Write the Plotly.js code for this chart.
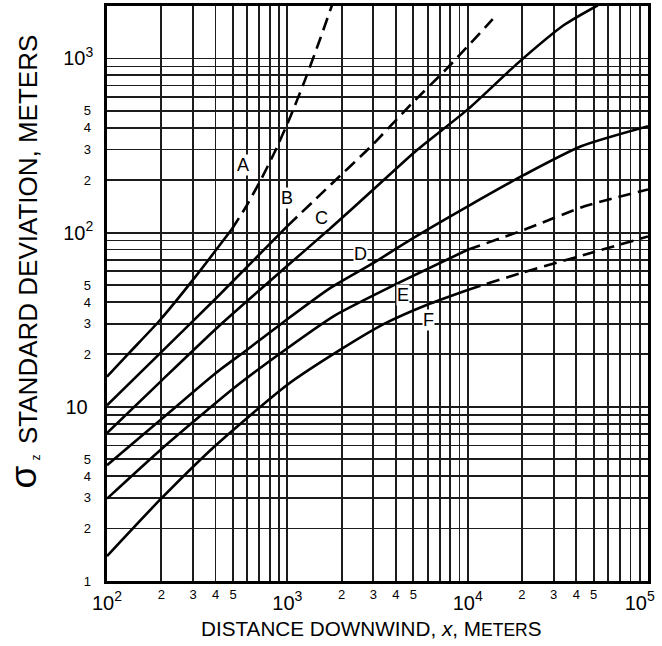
<!DOCTYPE html>
<html>
<head>
<meta charset="utf-8">
<script src="https://cdn.plot.ly/plotly-3.0.1.min.js"></script>
<style>html,body{margin:0;padding:0;background:#fff;}#chart{width:662px;height:646px;}</style>
</head>
<body>
<div id="chart"></div>
<script>
// ---- Curve data (distance downwind x [m], sigma_z [m]) ----
const aSolidX = [100, 134, 197, 308, 492];
const aSolidY = [14.9, 20.6, 31.5, 55.5, 104.5];
const aDashX  = [492, 583, 706, 855, 1035, 1254, 1518, 1839];
const aDashY  = [104.5, 138, 197, 293, 458, 753, 1288, 2270];

const bSolidX = [100, 200, 400, 1000];
const bSolidY = [10.2, 20.6, 41.7, 109];
const bDashX  = [1000, 1746, 2911, 4853, 7586, 13770];
const bDashY  = [109, 189, 313, 545, 865, 1679];

const cX = [100, 200, 424, 1000, 1746, 3040, 5236, 10020, 18970, 34360, 52700];
const cY = [7.06, 14.1, 29.5, 64.5, 106.7, 179, 298, 510, 940, 1560, 2020];

const dX = [100, 200, 400, 596, 946, 1726, 3040, 4853, 10020, 20650, 42560, 100000];
const dY = [4.62, 8.49, 15.6, 21.2, 30.5, 48, 67.5, 91.5, 141.6, 215, 313, 408];

const eSolidX = [100, 200, 500, 970, 1839, 3926, 10000];
const eSolidY = [2.97, 5.71, 12.7, 21.2, 33.5, 50.1, 79.7];
const eDashX  = [10000, 20650, 44460, 100000];
const eDashY  = [79.7, 104, 141.6, 177];

const fSolidX = [100, 197, 400, 993, 1960, 3524, 6010, 10000];
const fSolidY = [1.39, 2.93, 6.0, 13.3, 21.2, 30.3, 38.7, 46.9];
const fDashX  = [10000, 19770, 44460, 100000];
const fDashY  = [46.9, 58.6, 74.6, 95.1];

// ---- Curve labels ----
const labelText = ['A', 'B', 'C', 'D', 'E', 'F'];
const labelX = [570, 993, 1552, 2531, 4396, 6054];
const labelY = [243, 158, 121, 75.6, 43.9, 31.5];

// ---- Tick labels ----
const NB = '\u00a0';
const xDecadeVals = [100, 1000, 10000, 100000];
const xDecadeText = ['10<sup>2</sup>', '10<sup>3</sup>', '10<sup>4</sup>', '10<sup>5</sup>' + NB + NB + NB];
const xMinorVals = [200, 300, 400, 500, 2000, 3000, 4000, 5000, 20000, 30000, 40000, 50000];
const xMinorText = ['2', '3', '4', '5', '2', '3', '4', '5', '2', '3', '4', '5'];

const yDecadeVals = [10, 100, 1000];
const yDecadeText = ['10' + NB, '10<sup>2</sup>', '10<sup>3</sup>'];
const yMinorVals = [1, 2, 3, 4, 5, 20, 30, 40, 50, 200, 300, 400, 500];
const yMinorText = ['1', '2', '3', '4', '5', '2', '3', '4', '5', '2', '3', '4', '5'];

// grid positions: every 1..9 multiple in each decade
function gridVals(lo, hi, top) {
  const v = [];
  for (let d = lo; d < hi; d *= 10) for (let m = 1; m <= 9; m++) v.push(m * d);
  v.push(top);
  return v;
}
const gridX = gridVals(100, 100000, 100000);
const gridY = gridVals(1, 1000, 1000).concat([2000]);
function labelsFor(vals, keyVals, keyText) {
  return vals.map(v => { const i = keyVals.indexOf(v); return i >= 0 ? keyText[i] : ''; });
}

const LW = 2.6;
const DASH = '13px,7px';
function line(x, y, dashed) {
  return {x: x, y: y, type: 'scatter', mode: 'lines', hoverinfo: 'skip', showlegend: false,
          line: {color: '#000', width: LW, dash: dashed ? DASH : 'solid', shape: 'spline', smoothing: 0.6}};
}

const traces = [
  line(aSolidX, aSolidY, false), line(aDashX, aDashY, true),
  line(bSolidX, bSolidY, false), line(bDashX, bDashY, true),
  line(cX, cY, false),
  line(dX, dY, false),
  line(eSolidX, eSolidY, false), line(eDashX, eDashY, true),
  line(fSolidX, fSolidY, false), line(fDashX, fDashY, true),
  {x: [null], y: [null], xaxis: 'x2', yaxis: 'y2', type: 'scatter', mode: 'lines', showlegend: false, hoverinfo: 'skip'}
];

const FONT = 'Arial, "Liberation Sans", Helvetica, sans-serif';

const annotations = labelText.map((t, i) => ({
  x: Math.log10(labelX[i]), y: Math.log10(labelY[i]), xref: 'x', yref: 'y',
  text: t, showarrow: false, bgcolor: '#fff', borderpad: 0,
  font: {size: 18, color: '#000', family: FONT}
}));

// axis titles
annotations.push({
  xref: 'paper', yref: 'paper', x: -0.1464, y: 0.5944, xanchor: 'center', yanchor: 'middle',
  textangle: -90, showarrow: false, text: 'STANDARD DEVIATION, METERS',
  font: {size: 26, color: '#000', family: FONT}
});
annotations.push({
  xref: 'paper', yref: 'paper', x: -0.1553, y: 0.1819, xanchor: 'center', yanchor: 'middle',
  textangle: -90, showarrow: false, text: 'σ',
  font: {size: 37, color: '#000', family: FONT}
});
annotations.push({
  xref: 'paper', yref: 'paper', x: -0.1312, y: 0.215, xanchor: 'center', yanchor: 'middle',
  textangle: -90, showarrow: false, text: 'z',
  font: {size: 12, color: '#000', family: FONT}
});
annotations.push({
  xref: 'paper', yref: 'paper', x: 0.4898, y: -0.0827, xanchor: 'center', yanchor: 'middle',
  showarrow: false,
  text: 'DISTANCE DOWNWIND, <i>x</i>, M<span style="font-size:17.5px">ETER</span>S',
  font: {size: 20.7, color: '#000', family: FONT}
});

const GRID = '#1c1c1c';
const layout = {
  width: 662, height: 646,
  margin: {l: 107, r: 14, t: 6, b: 65, pad: 0},
  paper_bgcolor: '#fff', plot_bgcolor: '#fff',
  showlegend: false,
  font: {family: FONT, color: '#000'},
  xaxis: {
    type: 'log', range: [2, 5], tickmode: 'array', tickvals: gridX,
    ticktext: labelsFor(gridX, xDecadeVals, xDecadeText),
    showgrid: true, gridcolor: GRID, gridwidth: 1.8, ticks: '',
    showline: true, mirror: true, linecolor: '#000', linewidth: 2.7,
    zeroline: false, tickfont: {size: 20, color: '#000'}, ticklabelstandoff: 2,
    ticklabeloverflow: 'allow', fixedrange: true
  },
  xaxis2: {
    type: 'log', range: [2, 5], overlaying: 'x', anchor: 'y', side: 'bottom',
    tickmode: 'array', tickvals: xMinorVals, ticktext: xMinorText,
    showgrid: false, ticks: '', showline: false, zeroline: false,
    tickfont: {size: 13, color: '#000'}, ticklabelstandoff: 4,
    ticklabeloverflow: 'allow', fixedrange: true
  },
  yaxis: {
    type: 'log', range: [0, Math.log10(2000)], tickmode: 'array', tickvals: gridY,
    ticktext: labelsFor(gridY, yDecadeVals, yDecadeText),
    showgrid: true, gridcolor: GRID, gridwidth: 1.8, ticks: '',
    showline: true, mirror: true, linecolor: '#000', linewidth: 2.7,
    zeroline: false, tickfont: {size: 20, color: '#000'}, ticklabelstandoff: 7,
    ticklabeloverflow: 'allow', fixedrange: true
  },
  yaxis2: {
    type: 'log', range: [0, Math.log10(2000)], overlaying: 'y', anchor: 'x', side: 'left',
    tickmode: 'array', tickvals: yMinorVals, ticktext: yMinorText,
    showgrid: false, ticks: '', showline: false, zeroline: false,
    tickfont: {size: 13, color: '#000'}, ticklabelstandoff: 15,
    ticklabeloverflow: 'allow', fixedrange: true
  },
  annotations: annotations
};

Plotly.newPlot('chart', traces, layout, {staticPlot: true, displayModeBar: false});
</script>
</body>
</html>
